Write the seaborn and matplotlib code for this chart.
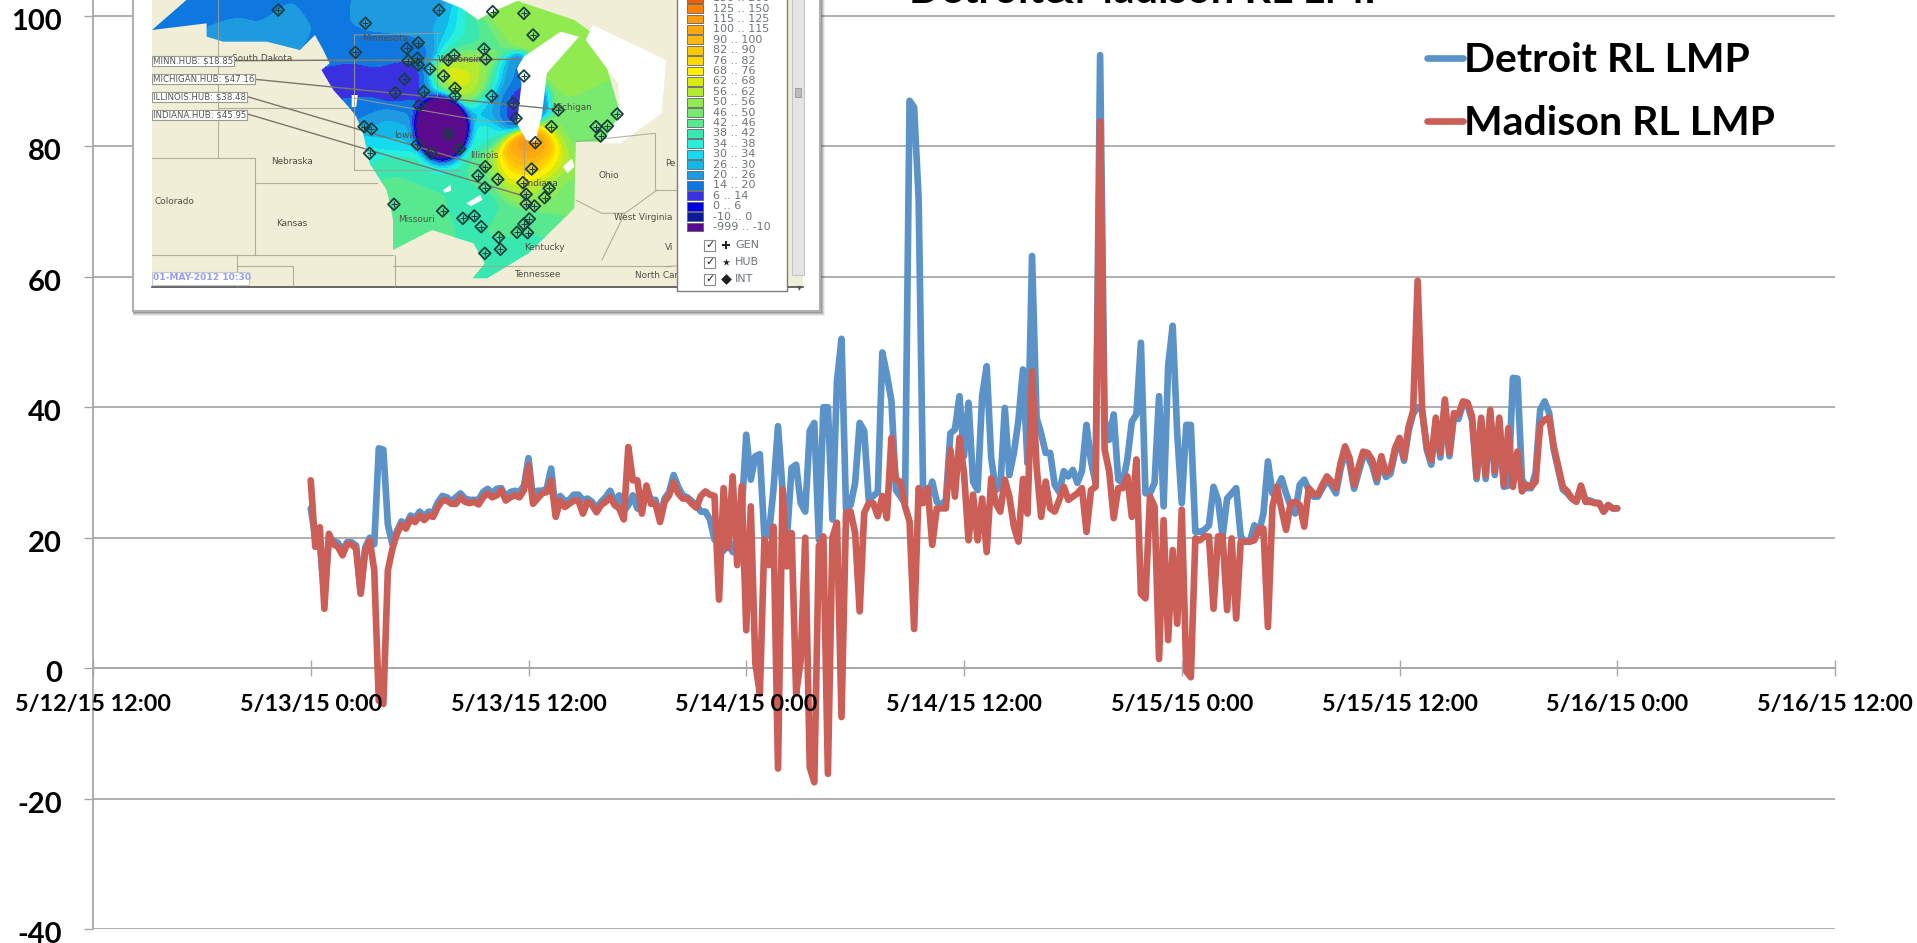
import numpy as np
import pandas as pd
import seaborn as sns
import matplotlib.pyplot as plt
from matplotlib.patches import Polygon, Rectangle
from matplotlib.transforms import ScaledTranslation

# 15 minute readings from 5/13/15 0:00 to 5/16/15 0:00
detroit_lmp = [
    24.5, 20, 19, 11, 20, 19.5, 19.2, 18, 19.3, 19.3, 18.8, 11.6,
    18.5, 20, 19, 33.7, 33.5, 22, 19, 21, 22.5, 22, 23.4, 23,
    24, 23.3, 24, 23.8, 25.4, 26.4, 26.2, 25.6, 26.2, 26.8, 26, 25.8,
    25.8, 25.8, 27, 27.5, 26.8, 27.5, 27.6, 26.2, 27, 27.2, 27, 28,
    32.2, 26, 27.2, 27.2, 27.5, 30.6, 24, 26.4, 25.6, 25.8, 26.6, 26.6,
    25.8, 26, 25.5, 24.5, 25.5, 26.2, 27.2, 25.5, 26.5, 24, 25, 26.5,
    24.5, 24.2, 27.5, 25.8, 25.8, 23, 26, 27, 29.6, 27.8, 26.5, 26.2,
    25.6, 25, 24, 24, 22.8, 19.7, 20, 18, 19.5, 17.8, 20.2, 24,
    35.8, 28.9, 32.5, 32.8, 20.2, 20.5, 27.4, 37.1, 27.4, 20.2, 30.7, 31.2,
    25.3, 24, 36.4, 37.6, 19.7, 40, 40, 22.8, 44, 50.5, 24.3, 25,
    28.4, 37.6, 36.4, 25.8, 26.4, 27, 48.4, 45, 41, 27.3, 26.3, 25.3,
    87, 86, 72, 26.5, 26.3, 28.6, 25.5, 25, 25.8, 36, 36.6, 41.7,
    32.5, 40.7, 28.6, 27.3, 41.7, 46.3, 32.2, 27.3, 27.8, 39.9, 29.6, 33,
    38, 45.8, 31.4, 63.2, 38.4, 36, 33, 33, 28.1, 27, 30.2, 29.4,
    30.4, 28.4, 30.2, 37.3, 31.7, 28.4, 94, 38.1, 35, 38.9, 28.9, 28.4,
    32, 37.8, 38.9, 49.9, 26.8, 26.8, 28.4, 41.7, 24.8, 46.3, 52.5, 36,
    25.3, 37.3, 37.3, 20.9, 20.9, 21.2, 21.9, 27.8, 25.8, 20.2, 26, 26.8,
    27.6, 20.2, 19.4, 19.4, 21.9, 20.7, 23.7, 31.7, 26.8, 27.6, 29.1, 26.8,
    24.8, 23.7, 28.1, 28.9, 27.3, 26.3, 26.3, 27.6, 28.8, 28, 26.8, 30.5,
    33.2, 31.4, 27.5, 30, 32.5, 32.5, 31, 28.5, 32, 29.3, 29.8, 33,
    34.8, 31.8, 36.3, 39, 40, 39.5, 33.5, 31.2, 37.8, 32.3, 40.8, 32.5,
    38.5, 38.2, 40.5, 40.4, 38, 29, 38, 29, 39, 29.6, 37.8, 27.8,
    28, 44.5, 44.4, 29, 27.6, 27.6, 30, 39.6, 40.9, 39.1, 33.5, 30.4,
    27.4, 26.8, 26, 25.6, 27.8, 25.8, 25.7, 25.4, 25.3, 24, 25, 24.5, 24.5,
]
madison_lmp = [
    28.8, 18.6, 21.6, 9.1, 20.6, 19, 18.6, 17.3, 19, 19, 18.3, 11.4,
    18, 19.6, 15, -5, -5.5, 15, 18.3, 20.6, 22, 21.4, 22.9, 22.4,
    23.4, 22.7, 23.4, 23.2, 24.7, 25.7, 25.7, 25.2, 25.2, 26.2, 25.5, 25.3,
    25.5, 25.1, 26.2, 26.8, 26.2, 26.5, 27.3, 25.7, 26.2, 26.5, 26.2, 27.3,
    31.1, 25.2, 26, 26.8, 27, 28.8, 23.2, 25.7, 24.7, 25.2, 25.7, 25.7,
    23.7, 25.5, 25, 23.9, 25, 25.5, 26.2, 25, 24.5, 22.8, 33.9, 28.8,
    28.8, 23.7, 28, 25.2, 25.2, 22.4, 25.5, 26.5, 28.5, 26.8, 26, 26,
    25.2, 24.6, 26.4, 27.1, 26.6, 26.4, 10.5, 27.6, 18.4, 29.4, 15.8, 27.9,
    5.8, 24.8, 0.7, -3.9, 19.7, 15.8, 21.7, -15.4, 27.4, 15.6, 20.7, -3.9,
    1.2, 20, -15.2, -17.5, 18.7, 20.2, -16.2, 20, 22.3, -7.5, 23.8, 24,
    20.7, 8.7, 23.8, 25.3, 25.3, 23.3, 26.4, 23, 35.3, 28.9, 28.6, 24.8,
    22.5, 6, 27.6, 25.3, 27.6, 18.9, 24.5, 24.5, 24.5, 33.5, 26.3, 35.3,
    29.9, 19.6, 26.6, 19.6, 26, 17.8, 29.1, 25.3, 24, 28.9, 26.3, 21.7,
    19.4, 29, 23.7, 45.5, 30.9, 23.2, 28.6, 24.5, 24, 25.8, 27.8, 25.8,
    26.3, 26.8, 27.6, 20.9, 27.3, 27.8, 83.8, 33.5, 30.2, 23, 27.6, 27.6,
    29.4, 23.2, 32, 11.4, 10.7, 26.3, 24.8, 1.4, 22.7, 4.3, 18.1, 6.8,
    24.3, -0.5, -1.4, 19.9, 19.6, 20.2, 20.2, 9.1, 20.2, 20.2, 8.9, 19.9,
    7.6, 19.4, 19.4, 19.4, 19.6, 21.4, 21.4, 6.3, 24.8, 27.8, 24.3, 21.2,
    25.3, 25.5, 25, 21.7, 27.6, 26.8, 26.6, 28.1, 29.4, 28.6, 27.6, 31.4,
    34, 32.2, 28.1, 30.9, 33.2, 33, 31.9, 29.1, 32.5, 29.9, 30.4, 33.7,
    35.3, 32.2, 37, 39.4, 59.4, 39.4, 34, 31.9, 38.4, 33, 41.2, 33,
    39.1, 38.9, 40.9, 40.7, 38.6, 29.4, 38.4, 29.6, 39.6, 30.2, 38.4, 28.1,
    36.8, 27.8, 33.2, 27.1, 28.1, 27.8, 28.6, 37.3, 38.1, 38.4, 34, 30.9,
    27.8, 27.1, 26, 25.5, 28, 25.5, 25.5, 25.3, 25.3, 24, 25, 24.5, 24.5,
]
series_names = ['Detroit RL LMP', 'Madison RL LMP']
y_ticks = [-40, -20, 0, 20, 40, 60, 80, 100]
x_tick_labels = ['5/12/15 12:00', '5/13/15 0:00', '5/13/15 12:00', '5/14/15 0:00', '5/14/15 12:00',
                 '5/15/15 0:00', '5/15/15 12:00', '5/16/15 0:00', '5/16/15 12:00']
title_text = 'Detroit&Madison RL LMP'

# Legend of the map screenshot, lowest band first
band_edges = [-999, -10, 0, 6, 14, 20, 26, 30, 34, 38, 42, 46, 50, 56, 62, 68, 76, 82, 90, 100, 115, 125, 150, 200]
band_colors = ['#5a0a8c', '#0a1a9a', '#0000e6', '#3a30e0', '#0f78e0', '#1d9ae0', '#12b8ea', '#14dbf0', '#28eedc',
               '#38e8b0', '#58e890', '#78ea70', '#90ea50', '#b4ea30', '#d8ea10', '#fff000', '#ffd800', '#ffc800',
               '#ffb810', '#ffa810', '#ff9c10', '#ff8000', '#f06000']

# Prices at spots on the map, in map units
price_x = [100, 220, 300, 450, 250, 350, 560, 640, 480, 560, 650, 510, 600, 640, 520, 640, 560, 600, 540, 600, 620, 700, 760,
           740, 760, 730, 730, 730, 800, 850, 860, 860, 800, 770, 790, 850, 950, 1000, 960, 1000, 1060, 960, 905, 885, 900, 860,
           930, 960, 990, 880, 935, 975, 800, 800, 780, 700, 650, 720, 780, 850, 900, 800, 700, 960, 885, 620, 780, 700, 700]
price_y = [70, 20, 20, 20, 80, 70, 30, 50, 130, 160, 150, 250, 250, 250, 330, 340, 390, 420, 450, 500, 620, 100, 100,
           150, 200, 265, 235, 295, 240, 240, 300, 350, 320, 330, 100, 60, 80, 90, 200, 300, 350, 400, 440, 480, 510, 500,
           480, 490, 440, 560, 560, 560, 400, 500, 560, 600, 650, 650, 620, 650, 700, 780, 500, 650, 760, 400, 400, 480, 280]
price_v = [15, 15, 16, 17, 23, 23, 24, 24, 17, 16, 16, 10, 10, 9, 17, 18, 26, 32, 36, 42, 46, 26, 36,
           44, 60, 74, 72, 72, 50, 14, 8, 4, 34, 22, 46, 56, 54, 56, 54, 50, 46, 46, 150, 125, 74, 70,
           68, 52, 46, 56, 52, 46, 40, 44, 42, 42, 46, 42, 38, 44, 42, 40, 38, 46, 40, 28, 34, 38, 6]

# Nodes on the map
node_x = [345, 535, 695, 812, 880, 900, 650, 625, 513, 793, 728, 715, 797, 628, 648, 650, 675, 705, 880, 620, 730, 730,
          600, 662, 810, 857, 652, 955, 863, 532, 548, 1083, 1037, 1062, 1047, 940, 905, 715, 648, 740, 678, 544, 796,
          780, 823, 897, 878, 795, 935, 885, 925, 885, 903, 597, 703, 772, 747, 892, 880, 787, 865, 888, 825, 829, 795]
node_y = [30, 70, 30, 35, 40, 105, 128, 145, 157, 147, 165, 180, 177, 182, 175, 195, 207, 228, 228, 238, 265, 288,
          278, 275, 288, 310, 317, 330, 355, 380, 387, 342, 380, 378, 408, 380, 428, 402, 433, 447, 460, 460, 500,
          527, 538, 507, 548, 563, 565, 583, 593, 612, 618, 613, 633, 648, 655, 657, 672, 680, 697, 698, 712, 748, 760]

state_names = ['South Dakota', 'Minnesota', 'Wisconsin', 'Michigan', 'Iowa', 'Nebraska', 'Illinois', 'Ohio', 'Colorado',
               'Indiana', 'Kansas', 'Missouri', 'West Virginia', 'Kentucky', 'Tennessee', 'North Car', 'Pe', 'Vi']
state_x = [310, 577, 740, 985, 620, 375, 793, 1065, 118, 918, 375, 645, 1140, 925, 910, 1170, 1200, 1197]
state_y = [175, 115, 177, 322, 405, 485, 467, 527, 606, 552, 670, 660, 652, 741, 824, 828, 490, 742]

hub_labels = ['MINN.HUB: $18.85', 'MICHIGAN.HUB: $47.16', 'ILLINOIS.HUB: $38.48', 'INDIANA.HUB: $45.95']

times = pd.date_range('2015-05-13 00:00', periods=len(detroit_lmp), freq='15min')
df = pd.DataFrame({'time': np.tile(times, 2),
                   'lmp': detroit_lmp + madison_lmp,
                   'series': [series_names[0]] * len(detroit_lmp) + [series_names[1]] * len(madison_lmp)})

sns.set_theme(style='white')
plt.rcParams['font.family'] = ['Lato', 'DejaVu Sans']
plt.rcParams['font.weight'] = 'bold'
plt.rcParams['axes.unicode_minus'] = False

W, H = 1917, 943
fig = plt.figure(figsize=(W / 100, H / 100), dpi=100, facecolor='white')
ax = fig.add_axes([93 / W, (H - 929) / H, (1835 - 93) / W, 929 / H])

grid_color = '#a8a8a8'
for v in y_ticks:
    ax.axhline(v, color=grid_color, lw=1.3, zorder=1)

sns.lineplot(data=df, x='time', y='lmp', hue='series', hue_order=series_names,
             palette=['#5b93c9', '#cb5f57'], estimator=None, errorbar=None, linewidth=4.8, ax=ax, zorder=2)

ax.set_xlim(pd.Timestamp('2015-05-12 12:00'), pd.Timestamp('2015-05-16 12:00'))
ax.set_ylim(-40, 102.45)
ax.set_axisbelow(False)
ax.set_xlabel('')
ax.set_ylabel('')
ax.set_yticks(y_ticks)
ax.set_xticks(pd.date_range('2015-05-12 12:00', periods=9, freq='12h'))
ax.set_xticklabels(x_tick_labels)
ax.tick_params(axis='y', direction='out', length=6.5, width=1, color=grid_color, pad=16, labelsize=21, labelcolor='black', left=True)
ax.tick_params(axis='x', direction='inout', length=11.5, width=1, color=grid_color, pad=13, labelsize=16.8, labelcolor='black', bottom=True)
shift_down = ScaledTranslation(0, -3.5 / 100, fig.dpi_scale_trans)
for lab in ax.get_yticklabels():
    lab.set_transform(lab.get_transform() + shift_down)
for lab in ax.get_xticklabels() + ax.get_yticklabels():
    lab.set_fontweight('bold')

for side in ['top', 'right']:
    ax.spines[side].set_visible(False)
ax.spines['bottom'].set_position(('data', 0))
for side in ['bottom', 'left']:
    ax.spines[side].set_color(grid_color)
    ax.spines[side].set_linewidth(1.3)
    ax.spines[side].set_zorder(1)

handles, labels = ax.get_legend_handles_labels()
leg = ax.legend(handles, labels, loc='upper left', bbox_to_anchor=(1427 / W, 1 - 42.5 / H), bbox_transform=fig.transFigure,
                frameon=False, handlelength=0.88, handletextpad=0.03, labelspacing=0.62,
                prop={'family': 'Lato', 'weight': 'bold', 'size': 29.5}, borderpad=0, borderaxespad=0, labelcolor='black')

fig.text(909 / W, 1 - 3.2 / H, title_text, fontsize=30, fontweight='bold', color='black', va='baseline', ha='left')

# Window of the map screenshot, in figure pixels
win = fig.add_axes([0, 0, 1, 1], facecolor='none')
win.set_xlim(0, W)
win.set_ylim(H, 0)
win.axis('off')
for off, alpha in [(5, 0.10), (4, 0.15), (3, 0.22), (2, 0.3)]:
    win.add_patch(Rectangle((133, -5), 687 + off, 316 + off, color='#555555', alpha=alpha, lw=0))
win.add_patch(Rectangle((133, -5), 687, 316, facecolor='white', edgecolor='#b0b0b0', lw=1.5))

# The map itself, in its own map units
mp = fig.add_axes([152 / W, 1 - 287 / H, (803 - 152) / W, 287 / H], facecolor='#f0eed6')
mp.set_xlim(70, 1488)
mp.set_ylim(861, 0)
mp.set_xticks([])
mp.set_yticks([])
for s in mp.spines.values():
    s.set_visible(False)
mp.spines['bottom'].set_visible(True)
mp.spines['bottom'].set_color('#555555')

footprint = [(70, 90), (145, 0), (720, 0), (745, 25), (780, 60), (860, 0), (990, 60), (1025, 95), (1060, 200), (1090, 340),
             (1060, 425), (993, 425), (990, 625), (890, 760), (800, 835), (768, 835), (795, 790), (770, 730), (680, 690),
             (595, 750), (595, 660), (588, 610), (581, 570), (544, 490), (530, 400), (515, 350), (501, 325), (465, 270),
             (439, 210), (457, 190), (443, 150), (425, 105), (392, 150), (320, 125), (225, 125), (189, 110), (189, 70)]
gx, gy = np.meshgrid(np.linspace(70, 1100, 520), np.linspace(0, 861, 430))
dist = np.hypot(gx[..., None] - np.array(price_x), gy[..., None] - np.array(price_y))
wt = np.exp(-dist ** 2 / (2 * 32 ** 2)) + 1e-6
field = (wt * np.array(price_v)).sum(axis=-1) / wt.sum(axis=-1)
# The low spot in Iowa is a clean oval in the picture
field -= 260 * np.exp(-(((gx - 702) / 46) ** 2 + ((gy - 385) / 78) ** 2) ** 1.6)
cs = mp.contourf(gx, gy, field, levels=band_edges, colors=band_colors, zorder=2)
clip = Polygon(footprint, closed=True, fill=False, edgecolor='none', transform=mp.transData)
mp.add_patch(clip)
cs.set_clip_path(clip)

lakes = [[(880, 170), (960, 95), (1000, 110), (930, 220), (920, 340), (905, 425), (885, 420), (865, 370), (875, 250), (865, 205)],
         [(1030, 75), (1190, 180), (1180, 340), (1090, 430), (1050, 430), (1090, 340), (1085, 250), (1015, 120)],
         [(700, 0), (745, 25), (780, 55), (870, 0)],
         [(704, 570), (720, 555), (722, 572), (708, 578)], [(755, 610), (785, 585), (790, 600), (765, 618)],
         [(965, 500), (985, 475), (990, 500), (975, 520)], [(505, 285), (518, 285), (515, 320), (505, 322)]]
for lake in lakes:
    mp.fill(*zip(*lake), color='white', lw=0, zorder=3)

state_lines = [[(213, 0), (213, 475)], [(70, 475), (295, 475), (295, 765)], [(295, 550), (560, 550)], [(70, 765), (595, 765)],
               [(255, 765), (255, 860)], [(255, 797), (378, 797), (378, 860)], [(595, 797), (1200, 797)], [(600, 765), (600, 860)],
               [(215, 325), (500, 325)], [(215, 180), (520, 180), (800, 180)], [(1165, 400), (1165, 570), (1240, 570)],
               [(993, 600), (1050, 640), (1100, 640), (1170, 570)], [(1100, 640), (1050, 780)], [(510, 105), (510, 510), (740, 510)],
               [(690, 100), (690, 290)], [(510, 295), (800, 365), (870, 365)], [(800, 365), (800, 520)], [(880, 420), (880, 620)],
               [(510, 105), (700, 100)], [(993, 425), (1165, 400)], [(1190, 800), (1290, 790)]]
for seg in state_lines:
    mp.plot(*zip(*seg), color='#a0a08a', lw=0.8, alpha=0.8, zorder=4)

leader_lines = [[(248, 182), (870, 178)], [(295, 238), (950, 328)], [(278, 290), (795, 500)], [(278, 342), (885, 590)]]
for seg in leader_lines:
    mp.plot(*zip(*seg), color='#77776a', lw=1, zorder=5)

mp.scatter(node_x, node_y, marker='D', s=36, facecolor='none', edgecolor='#17403f', linewidth=1.3, zorder=6)
mp.scatter(node_x, node_y, marker='+', s=18, color='#17403f', linewidth=0.8, zorder=6)

for name, x, y in zip(state_names, state_x, state_y):
    mp.text(x, y, name, fontsize=6.4, color='#4f4f45', ha='center', va='center', family='DejaVu Sans', fontweight='normal', zorder=7, clip_on=True)

hub_right = [248, 295, 278, 278]
hub_mid = [183, 237, 292, 345]
for label, right, mid in zip(hub_labels, hub_right, hub_mid):
    mp.add_patch(Rectangle((70, mid - 15), right - 70, 30, facecolor='white', edgecolor='#9a9a90', lw=0.8, zorder=8))
    mp.text(73, mid, label, fontsize=6.2, color='#55554f', va='center', family='DejaVu Sans', fontweight='normal', zorder=9)
mp.add_patch(Rectangle((70, 815), 212, 40, facecolor='white', edgecolor='#c8c8c8', lw=0.8, zorder=8))
mp.text(73, 833, '01-MAY-2012 10:30', fontsize=6.6, color='#9a9af0', va='center', family='DejaVu Sans', fontweight='bold', zorder=9)

# Colour key and scroll bar on top of the map
key = fig.add_axes([0, 0, 1, 1], facecolor='none')
key.set_xlim(0, W)
key.set_ylim(H, 0)
key.axis('off')
key.add_patch(Rectangle((792, -2), 12, 277, facecolor='#e4e4e4', edgecolor='#c4c4c4', lw=0.8))
key.add_patch(Rectangle((795, 88), 6, 9, facecolor='#bdbdbd', edgecolor='#8c8c8c', lw=0.5))
key.text(799, 287, '▾', fontsize=7, color='#555555', ha='center', va='center', family='DejaVu Sans', fontweight='normal')
key.add_patch(Rectangle((677, -2), 110, 293, facecolor='white', edgecolor='#7c7c7c', lw=1))

key_labels = [f'{lo} .. {hi}' for lo, hi in zip(band_edges[:-1], band_edges[1:])]
for i, (color, label) in enumerate(zip(band_colors, key_labels)):
    y = 227 - i * 10.4
    key.add_patch(Rectangle((687, y - 4.4), 16, 8.8, facecolor=color, edgecolor='#60606a', lw=0.6))
    key.text(713, y, label, fontsize=8, color='#6e7478', va='center', family='DejaVu Sans', fontweight='normal')

for y, mark, name in zip([245, 262, 279], ['P', '*', 'D'], ['GEN', 'HUB', 'INT']):
    key.add_patch(Rectangle((704, y - 5.5), 11, 11, facecolor='white', edgecolor='#8a8a8a', lw=0.8))
    key.text(710, y, '✓', fontsize=8, color='#222222', ha='center', va='center', family='DejaVu Sans', fontweight='normal')
    key.scatter([726], [y], marker=mark, s=30, color='#202020', lw=0)
    key.text(735, y, name, fontsize=8, color='#6e7478', va='center', family='DejaVu Sans', fontweight='normal')
key.set_xlim(0, W)
key.set_ylim(H, 0)

fig.savefig('out.png', dpi=100)
